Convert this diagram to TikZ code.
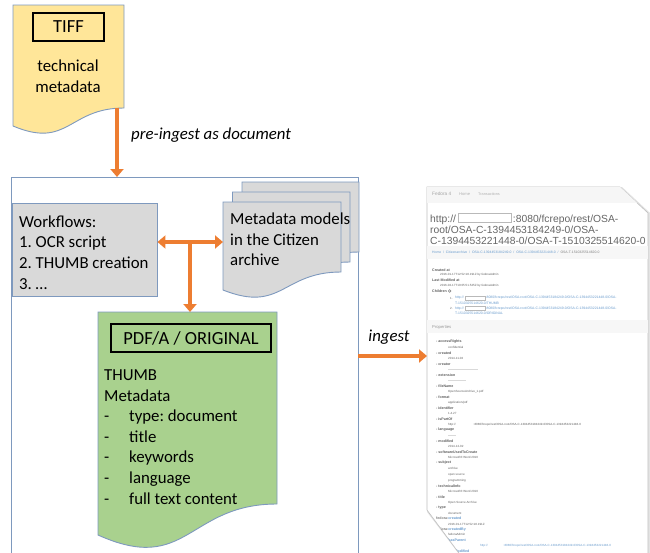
\documentclass[tikz,border=0pt]{standalone}
\usepackage{fontspec}
\setmainfont{Carlito}
\newfontfamily\shotfont{Liberation Sans}
\usetikzlibrary{arrows.meta, positioning, calc}
\tikzset{>={Triangle[width=13pt,length=8pt]}}
\frenchspacing
\definecolor{docborder}{RGB}{126,153,190}
\definecolor{tiffyellow}{RGB}{255,230,153}
\definecolor{pdfgreen}{RGB}{169,209,142}
\definecolor{boxgray}{RGB}{217,217,217}
\definecolor{arroworange}{RGB}{237,125,49}
\definecolor{linkblue}{RGB}{105,155,205}
\definecolor{shotgray}{RGB}{95,95,95}

% document shape: style, left, top, right, right end of wave, left end of wave
\newcommand{\docshape}[6]{%
  \draw[#1] (#2,#3) -- (#4,#3) -- (#4,#5)
    .. controls ({(#2+#4)/2},#5) and ({(#2+#4)/2},{#5+2.3*(#6-#5)}) .. (#2,#6) -- cycle;}

\begin{document}
\begin{tikzpicture}[
  x=1pt, y=-1pt,
  txt/.style={inner sep=0pt, font=\fontsize{16.8}{20.6}\selectfont},
  titlebox/.style={draw=black, line width=1.8pt, minimum height=28pt, inner sep=0pt, font=\fontsize{18.5}{22}\selectfont},
  flowlabel/.style={inner sep=0pt, font=\itshape\fontsize{16.8}{20}\selectfont},
  flow/.style={draw=arroworange, line width=4.5pt},
  docline/.style={draw=docborder, line width=0.9pt},
  shot/.style={inner sep=0pt, anchor=west, font=\shotfont\fontsize{3}{4}\selectfont, text=shotgray},
  shotkey/.style={shot, font=\shotfont\bfseries\fontsize{3.6}{4}\selectfont},
  shotlink/.style={shot, text=linkblue},
  shotbar/.style={gray!30, line width=1.6pt}
]
  \useasboundingbox (0,0) rectangle (650,552);

  % Outer frame
  \draw[docline] (11.5,560) -- (11.5,177) -- (358,177) -- (358,560);
  \coordinate (hubtop) at (117,177);
  \coordinate (hubright) at (358,356);

  % TIFF document
  \docshape{docline, fill=tiffyellow}{13}{5}{124}{108}{126}
  \node[titlebox, minimum width=71pt] (tiff) at (68.5,27) {TIFF};
  \node[txt, align=center, font=\fontsize{16.8}{21.5}\selectfont] (tiffmeta) at (68,76) {technical\\metadata};
  \coordinate (tiffbottom) at (117,108);

  % Workflows
  \node[docline, fill=boxgray, minimum width=145pt, minimum height=93pt, inner sep=0pt] (wf) at (84.5,249.5) {};
  \node[txt, anchor=west, align=left] (wftext) at (19,252.5) {Workflows:\\1. OCR script\\2. THUMB creation\\3. …};

  % Metadata models (stack of three)
  \docshape{docline, fill=boxgray}{242}{182}{359}{252}{270}
  \docshape{docline, fill=boxgray}{232.5}{192}{350}{262}{280}
  \docshape{docline, fill=boxgray}{223}{202}{341}{272}{290}
  \node[txt, anchor=west, align=left] (metatext) at (230,239.5) {Metadata models\\in the Citizen\\archive};
  \coordinate (metaleft) at (223,242);

  % PDF/A document
  \docshape{docline, fill=pdfgreen}{98}{312}{277}{504}{535}
  \node[titlebox, minimum width=160pt] (pdf) at (191,338) {PDF/A / ORIGINAL};
  \node[txt, anchor=west, align=left] (pdftext) at (104,437) {THUMB\\Metadata\\
    \makebox[25pt][l]{-}type: document\\\makebox[25pt][l]{-}title\\
    \makebox[25pt][l]{-}keywords\\\makebox[25pt][l]{-}language\\
    \makebox[25pt][l]{-}full text content};
  \coordinate (tee) at (190,242);
  \coordinate (pdftop) at (190,312);

  % Arrows
  \draw[flow, ->] (tiffbottom) -- (hubtop);
  \node[flowlabel, anchor=west] (preingest) at (131,135) {pre-ingest as document};
  \draw[flow, <->] (wf.east |- metaleft) -- (metaleft);
  \draw[flow, ->] (tee) -- (pdftop);

  % Repository screenshot
  \coordinate (shotleft) at (427,356);
  \draw[gray!22, line width=3pt, line join=round] (428.5,188.5) -- (621.5,188.5) -- (649.5,214.5) -- (649.5,560) -- (465.5,560) -- (428.5,511.5) -- cycle;
  \filldraw[fill=white, draw=gray!50, line width=0.6pt] (427,187) -- (620,187) -- (648,213) -- (648,560) -- (464,560) -- (427,510) -- cycle;
  \begin{scope}
    \clip (427,187) -- (620,187) -- (648,213) -- (648,560) -- (464,560) -- (427,510) -- cycle;
    \fill[gray!7] (427,187) rectangle (648,202.5);
    \node[shot, font=\shotfont\fontsize{4.8}{5}\selectfont, text=gray!70] (fedora) at (432,194) {Fedora 4};
    \node[shot, font=\shotfont\fontsize{4.1}{5}\selectfont, text=gray!60] (home) at (459,194) {Home};
    \node[shot, font=\shotfont\fontsize{3.8}{5}\selectfont, text=gray!60] (trans) at (478,194) {Transactions};
    \node[shot, align=left, font=\shotfont\fontsize{10.3}{11}\selectfont, text=gray!80!black] (url) at (430,229.5)
      {http://\hspace{57pt}:8080/fcrepo/rest/OSA-\\root/OSA-C-1394453184249-0/OSA-\\C-1394453221448-0/OSA-T-1510325514620-0};
    \draw[gray!55, fill=white, line width=0.4pt] (458,213) rectangle (511,222);
    \fill[gray!6] (427,246) rectangle (648,259);
    \node[shotlink, font=\shotfont\fontsize{3.4}{4}\selectfont] (crumbs) at (432,252.5)
      {Home \ / \ Citizenarchive \ / \ OSA-C-1394453184249-0 \ / \ OSA-C-1394453221448-0 \ / \ \textcolor{gray}{OSA-T-1510325514620-0}};
    \node[shotkey] (createdat) at (432,270) {Created at};
    \node[shot] at (440,275) {2016-01-17T12:52:18.191Z by fedoraAdmin};
    \node[shotkey] (modat) at (432,280.5) {Last Modified at};
    \node[shot] at (440,286) {2016-02-17T10:05:51.525Z by fedoraAdmin};
    \node[shotkey] (children) at (432,291) {Children};
    \node[draw=gray, circle, inner sep=0.2pt, font=\shotfont\fontsize{3}{3}\selectfont, text=gray, right=1pt of children] (info) {i};
    \node[shot] at (450,298) {1.};
    \node[shotlink, font=\shotfont\fontsize{3.4}{4}\selectfont] (child1) at (455,298)
      {http://\hspace{22pt}:8080/fcrepo/rest/OSA-root/OSA-C-1394453184249-0/OSA-C-1394453221448-0/OSA-};
    \node[shotlink, font=\shotfont\fontsize{3.4}{4}\selectfont] at (455,303) {T-1510325514620-0/THUMB};
    \draw[gray!55, line width=0.3pt] (465,296) rectangle (485,300);
    \node[shot] at (450,308.5) {2.};
    \node[shotlink, font=\shotfont\fontsize{3.4}{4}\selectfont] (child2) at (455,308.5)
      {http://\hspace{22pt}:8080/fcrepo/rest/OSA-root/OSA-C-1394453184249-0/OSA-C-1394453221448-0/OSA-};
    \node[shotlink, font=\shotfont\fontsize{3.4}{4}\selectfont] at (455,313.5) {T-1510325514620-0/ORIGINAL};
    \draw[gray!55, line width=0.3pt] (465,306.5) rectangle (485,310.5);
    \fill[gray!6] (427,320) rectangle (648,333);
    \node[shot, font=\shotfont\fontsize{4.2}{5}\selectfont, text=gray!80] (props) at (432,327) {Properties};
    \foreach \k/\v [count=\i from 0] in {accessRights/confidential, created/2014-11-02, creator/{},
        extension/{}, fileName/OpenSourceArchive\_1.pdf, format/{application/pdf}, identifier/1.4.27,
        isPartOf/{http://\hspace{18pt}:8080/fcrepo/rest/OSA-root/OSA-C-1394453184249-0/OSA-C-1394453221448-0},
        language/{}, modified/2014-12-02, softwareUsedToCreate/{Microsoft® Word 2010}}
    {
      \node[shotkey] at (436,{342+11*\i}) {- \k};
      \node[shot] at (448,{347.5+11*\i}) {\v};
    }
    \draw[shotbar] (448,369.5) -- (478,369.5);
    \draw[shotbar] (448,380.5) -- (466,380.5);
    \draw[shotbar] (448,435.5) -- (456,435.5);
    \node[shotkey] at (436,463) {- subject};
    \node[shot, align=left, font=\shotfont\fontsize{3}{6}\selectfont] at (448,474.5) {archive\\open source\\programming};
    \node[shotkey] at (436,486) {- technicalInfo};
    \node[shot] at (448,491.5) {Microsoft® Word 2010};
    \node[shotkey] at (436,497) {- title};
    \node[shot] at (448,502.5) {Open Source Archive};
    \node[shotkey] at (436,508) {- type};
    \node[shot] at (448,513.5) {document};
    \node[shotkey] at (436,518.5) {\textcolor{gray}{fedora:}\textcolor{linkblue}{created}};
    \node[shot] at (448,524) {2016-01-17T12:52:18.191Z};
    \node[shotkey] at (436,529.5) {\textcolor{gray}{fedora:}\textcolor{linkblue}{createdBy}};
    \node[shot] at (448,534.5) {fedoraAdmin};
    \node[shotkey] at (436,540) {\textcolor{gray}{fedora:}\textcolor{linkblue}{hasParent}};
    \node[shotlink] at (480,545.5) {http://\hspace{16pt}:8080/fcrepo/rest/OSA-root/OSA-C-1394453184249-0/OSA-C-1394453221448-0};
    \node[shotkey] at (436,551) {\textcolor{gray}{fedora:}\textcolor{linkblue}{lastModified}};
  \end{scope}

  \draw[flow, ->] (hubright) -- (shotleft);
  \node[flowlabel] (ingest) at (389,337) {ingest};
\end{tikzpicture}
\end{document}
